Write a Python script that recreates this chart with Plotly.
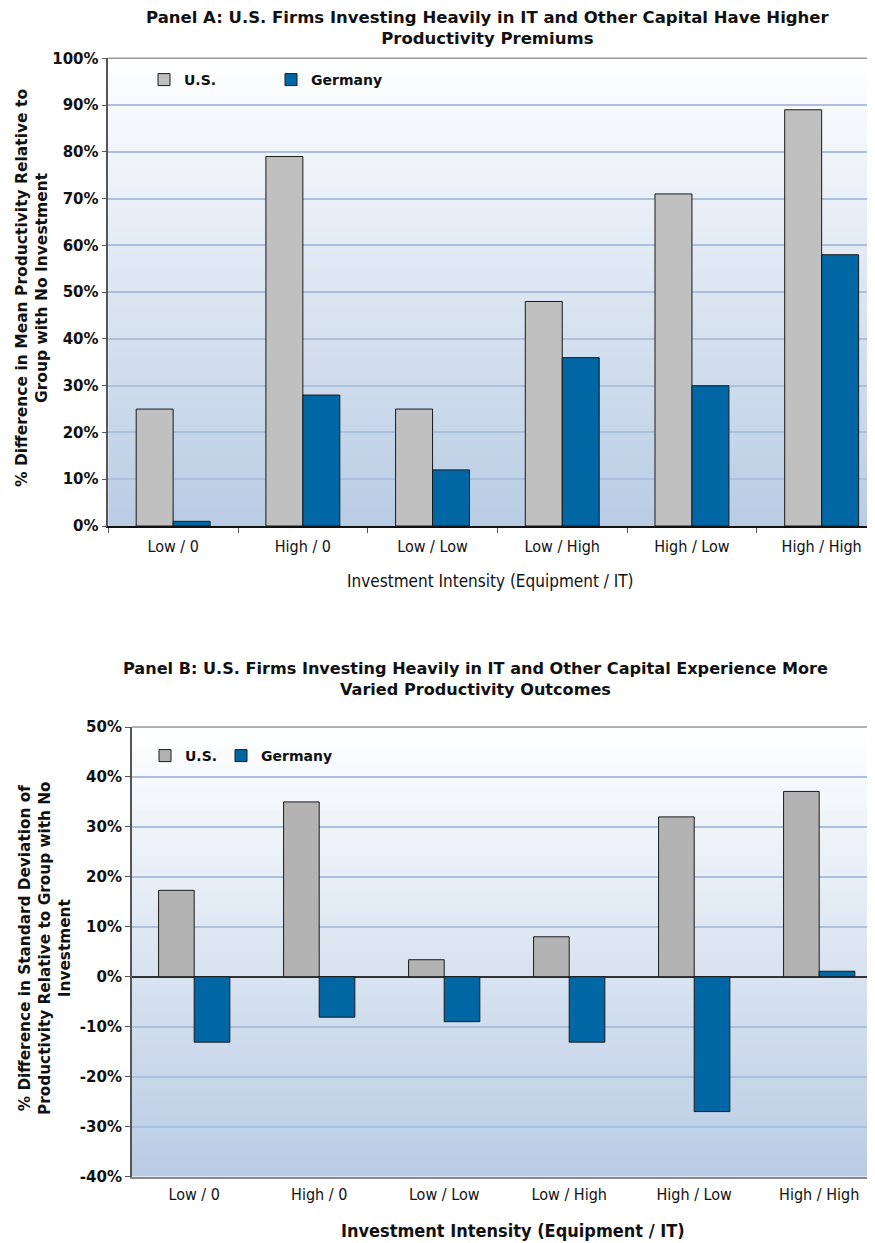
import plotly.graph_objects as go

# ---------------- data ----------------
categories = ["Low / 0", "High / 0", "Low / Low", "Low / High", "High / Low", "High / High"]
series_names = ["U.S.", "Germany"]

panelA_us = [25, 79, 25, 48, 71, 89]
panelA_de = [1, 28, 12, 36, 30, 58]

panelB_us = [17.3, 35, 3.4, 8, 32, 37.1]
panelB_de = [-13.1, -8.1, -9, -13.1, -27, 1.1]

yticksA = [0, 10, 20, 30, 40, 50, 60, 70, 80, 90, 100]
yticklabelsA = ["0%", "10%", "20%", "30%", "40%", "50%", "60%", "70%", "80%", "90%", "100%"]
yticksB = [-40, -30, -20, -10, 0, 10, 20, 30, 40, 50]
yticklabelsB = ["-40%", "-30%", "-20%", "-10%", "0%", "10%", "20%", "30%", "40%", "50%"]

titleA = "Panel A: U.S. Firms Investing Heavily in IT and Other Capital Have Higher<br>Productivity Premiums"
titleB = "Panel B: U.S. Firms Investing Heavily in IT and Other Capital Experience More<br>Varied Productivity Outcomes"
ytitleA = "% Difference in Mean Productivity Relative to<br>Group with No Investment"
ytitleB = "% Difference in Standard Deviation of<br>Productivity Relative to Group with No<br>Investment"
xtitle = "Investment Intensity (Equipment / IT)"

# ---------------- styling ----------------
OFF = 8  # default page body margin
W, H = 875 - OFF, 1243 - OFF
BOLD = "DejaVu Sans"
COND = "Liberation Sans Narrow, DejaVu Sans Condensed, Roboto Condensed, Roboto, sans-serif"
US_A = "#c0c0c0"
US_B = "#b3b3b3"
DE = "#0066a4"
GRID = "#aac0dd"
TXT = "#111111"


def px_x(p):
    return (p - OFF) / W


def px_y(p):
    return 1 - (p - OFF) / H


# plot area geometry (reference pixels)
A_left, A_top, A_bot, A_cat = 108.3, 58.3, 526.0, 129.7
B_left, B_top, B_bot, B_cat = 131.7, 727.0, 1176.5, 125.0

A_xend = (875 - A_left) / A_cat - 0.5
B_xend = (875 - B_left) / B_cat - 0.5

fig = go.Figure()

bar_line = dict(color="#1a1a1a", width=1)

fig.add_trace(go.Bar(x=categories, y=panelA_us, name=series_names[0], marker=dict(color=US_A, line=bar_line),
                     xaxis="x", yaxis="y", legend="legend"))
fig.add_trace(go.Bar(x=categories, y=panelA_de, name=series_names[1], marker=dict(color=DE, line=bar_line),
                     xaxis="x", yaxis="y", legend="legend2"))
fig.add_trace(go.Bar(x=categories, y=panelB_us, name=series_names[0], marker=dict(color=US_B, line=bar_line),
                     xaxis="x2", yaxis="y2", legend="legend3"))
fig.add_trace(go.Bar(x=categories, y=panelB_de, name=series_names[1], marker=dict(color=DE, line=bar_line),
                     xaxis="x2", yaxis="y2", legend="legend4"))

yA_dom = [px_y(A_bot), px_y(A_top)]
yB_dom = [px_y(B_bot), px_y(B_top)]
zeroB = yB_dom[0] + (0 - (-40)) / 90 * (yB_dom[1] - yB_dom[0])

tickfontY = dict(family=BOLD, size=15, color=TXT, weight="bold")
tickfontX = dict(family=COND, size=16, color=TXT)
legfont = dict(family=BOLD, size=14, color=TXT, weight="bold")


def leg(xpx, ypx):
    return dict(orientation="h", x=px_x(xpx), xanchor="left", y=px_y(ypx), yanchor="middle",
                bgcolor="rgba(0,0,0,0)", itemwidth=30, font=legfont)


fig.update_layout(
    width=W, height=H,
    margin=dict(l=0, r=0, t=0, b=0, autoexpand=False),
    paper_bgcolor="white",
    plot_bgcolor="rgba(0,0,0,0)",
    barmode="group",
    bargap=0.43,
    bargroupgap=0,
    showlegend=True,
    xaxis=dict(domain=[px_x(A_left), 1], anchor="y", type="category",
               range=[-0.5, A_xend], showgrid=False, showline=True, linecolor="#111111", linewidth=1.5,
               ticks="outside", tickson="boundaries", ticklen=5, tickcolor="#555555", tickwidth=1,
               tickfont=tickfontX, ticklabelstandoff=5),
    yaxis=dict(domain=yA_dom, anchor="x", range=[0, 100], tickvals=yticksA, ticktext=yticklabelsA,
               showgrid=True, gridcolor=GRID, gridwidth=1.5, zeroline=False,
               showline=True, linecolor="#555555", linewidth=1.5,
               ticks="outside", ticklen=5, tickcolor="#555555", tickfont=tickfontY),
    xaxis2=dict(domain=[px_x(B_left), 1], anchor="y2", type="category",
                range=[-0.5, B_xend], showgrid=False, showline=True, linecolor="#888888", linewidth=1.5,
                ticks="", tickfont=tickfontX, ticklabelstandoff=3),
    xaxis3=dict(overlaying="x2", anchor="free", position=zeroB, range=[-0.5, B_xend],
                tickvals=[-0.5, 0.5, 1.5, 2.5, 3.5, 4.5, 5.5], showticklabels=False,
                ticks="outside", ticklen=5, tickcolor="#555555", showgrid=False, showline=False,
                zeroline=False),
    yaxis2=dict(domain=yB_dom, anchor="x2", range=[-40, 50], tickvals=yticksB, ticktext=yticklabelsB,
                showgrid=True, gridcolor=GRID, gridwidth=1.5,
                zeroline=True, zerolinecolor="#333333", zerolinewidth=1.5,
                showline=True, linecolor="#555555", linewidth=1.5,
                ticks="outside", ticklen=5, tickcolor="#555555", tickfont=tickfontY),
    legend=leg(144, 80),
    legend2=leg(271, 80),
    legend3=leg(145, 756),
    legend4=leg(221, 756),
)

# gradient plot backgrounds
shapes = []
N = 60
top_rgb = (255, 255, 255)
bot_rgb = (184, 204, 228)
for xref, yref in (("x domain", "y domain"), ("x2 domain", "y2 domain")):
    for i in range(N):
        t = (i + 0.5) / N  # 0 at bottom
        c = tuple(round(bot_rgb[k] + (top_rgb[k] - bot_rgb[k]) * t) for k in range(3))
        shapes.append(dict(type="rect", xref=xref, yref=yref, x0=0, x1=1,
                           y0=i / N, y1=(i + 1) / N + 0.002, layer="below",
                           fillcolor="rgb(%d,%d,%d)" % c, line=dict(width=0)))
    shapes.append(dict(type="line", xref=xref, yref=yref, x0=0, x1=1, y0=1, y1=1,
                       line=dict(color="#999999", width=1.5)))
fig.update_layout(shapes=shapes)

ann = []


def add_ann(text, xpx, ypx, font, angle=0):
    ann.append(dict(text=text, x=px_x(xpx), y=px_y(ypx), xref="paper", yref="paper", showarrow=False,
                    xanchor="center", yanchor="middle", textangle=angle, font=font, align="center"))


add_ann(titleA, 488, 28, dict(family=BOLD, size=16.5, color=TXT, weight="bold"))
add_ann(titleB, 475, 679, dict(family=BOLD, size=16.1, color=TXT, weight="bold"))
add_ann(ytitleA, 32, 288, dict(family=BOLD, size=15.5, color=TXT, weight="bold"), -90)
add_ann(ytitleB, 45, 948, dict(family=BOLD, size=15.3, color=TXT, weight="bold"), -90)
add_ann(xtitle, 490, 581, dict(family=COND, size=17, color=TXT))
add_ann(xtitle, 513, 1230, dict(family=COND, size=18, color=TXT, weight="bold"))
fig.update_layout(annotations=ann)

fig.write_html("out.html")
